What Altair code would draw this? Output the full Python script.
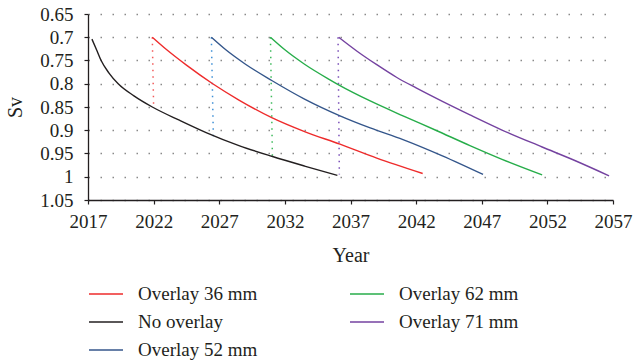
import altair as alt
import pandas as pd

# Sv index over time for the untreated pavement and four overlay thicknesses
no_overlay_years = [2017.3, 2017.7, 2018.0, 2018.6, 2019.3, 2020.5, 2021.9, 2024.0,
                    2026.0, 2028.5, 2031.0, 2033.5, 2036.0]
no_overlay_sv = [0.704, 0.730, 0.750, 0.777, 0.800, 0.826, 0.850, 0.879,
                 0.905, 0.933, 0.956, 0.977, 0.997]

overlay36_years = [2021.9, 2023.0, 2024.5, 2026.5, 2028.5, 2031.0, 2033.5, 2036.2, 2039.0, 2042.5]
overlay36_sv = [0.700, 0.727, 0.760, 0.800, 0.835, 0.873, 0.903, 0.930, 0.960, 0.993]

overlay52_years = [2026.4, 2027.5, 2029.0, 2031.0, 2033.5, 2036.2, 2038.5, 2041.0, 2044.0, 2047.1]
overlay52_sv = [0.700, 0.727, 0.758, 0.793, 0.833, 0.869, 0.895, 0.920, 0.955, 0.995]

overlay62_years = [2030.9, 2032.0, 2033.5, 2035.4, 2036.2, 2038.5, 2041.0, 2043.5,
                   2046.1, 2048.5, 2051.6]
overlay62_sv = [0.700, 0.727, 0.758, 0.791, 0.804, 0.837, 0.869, 0.900, 0.933, 0.962, 0.996]

overlay71_years = [2036.1, 2037.5, 2039.0, 2040.5, 2042.0, 2044.0, 2046.1, 2048.5,
                   2051.6, 2054.0, 2056.7]
overlay71_sv = [0.700, 0.730, 0.759, 0.786, 0.809, 0.838, 0.867, 0.899, 0.936, 0.964, 0.998]

# Vertical connectors from each overlay's start down to the untreated curve
connector_series = ["Overlay 36 mm", "Overlay 52 mm", "Overlay 62 mm", "Overlay 71 mm"]
connector_top_years = [2021.9, 2026.4, 2030.9, 2036.05]
connector_foot_years = [2022.0, 2026.55, 2031.05, 2036.15]
connector_top_sv = [0.700, 0.700, 0.700, 0.700]
connector_foot_sv = [0.850, 0.913, 0.956, 0.995]

year_ticks = [2017, 2022, 2027, 2032, 2037, 2042, 2047, 2052, 2057]
sv_ticks = [0.65, 0.7, 0.75, 0.8, 0.85, 0.9, 0.95, 1.0, 1.05]

# Legend entries fill the two columns top to bottom
legend_order = ["Overlay 36 mm", "No overlay", "Overlay 52 mm", "Overlay 62 mm", "Overlay 71 mm"]
legend_colors = ["#ee2b2b", "#231f20", "#34568b", "#27ad4a", "#7442a0"]
connector_colors = ["#f25a5a", "#3d8fd6", "#3dba5c", "#7a4fb8"]

series = {
    "No overlay": (no_overlay_years, no_overlay_sv),
    "Overlay 36 mm": (overlay36_years, overlay36_sv),
    "Overlay 52 mm": (overlay52_years, overlay52_sv),
    "Overlay 62 mm": (overlay62_years, overlay62_sv),
    "Overlay 71 mm": (overlay71_years, overlay71_sv),
}
rows = []
for name, (ys, vs) in series.items():
    for y, v in zip(ys, vs):
        rows.append({"series": name, "year": y, "sv": v})
curves = pd.DataFrame(rows)

conn_rows = []
for name, x0, x1, v0, v1 in zip(connector_series, connector_top_years, connector_foot_years,
                                connector_top_sv, connector_foot_sv):
    conn_rows.append({"series": name, "year": x0, "sv": v0, "k": 0})
    conn_rows.append({"series": name, "year": x1, "sv": v1, "k": 1})
connectors = pd.DataFrame(conn_rows)

FONT = "Liberation Serif"
TEXT = "#231f20"

x_enc = alt.X(
    "year:Q",
    scale=alt.Scale(domain=[2017, 2057], nice=False, zero=False),
    axis=alt.Axis(values=year_ticks, format="d", title="Year", grid=False,
                  tickSize=4, labelPadding=8, titlePadding=14,
                  labelFlush=False, labelOverlap=False),
)
y_enc = alt.Y(
    "sv:Q",
    scale=alt.Scale(domain=[0.65, 1.05], reverse=True, nice=False, zero=False),
    axis=alt.Axis(values=sv_ticks, format="~g", title="Sv", grid=True,
                  tickSize=4, labelPadding=11, titlePadding=14,
                  labelFlush=False, labelOverlap=False),
)

connector_layer = alt.Chart(connectors).mark_line(
    strokeWidth=1.5, strokeDash=[1.5, 5], clip=True
).encode(
    x=x_enc,
    y=y_enc,
    order="k:Q",
    detail="series:N",
    color=alt.Color("series:N", scale=alt.Scale(domain=connector_series, range=connector_colors),
                    legend=None),
)

curve_layer = alt.Chart(curves).mark_line(
    strokeWidth=1.4, interpolate="monotone", clip=True
).encode(
    x=x_enc,
    y=y_enc,
    color=alt.Color(
        "series:N",
        scale=alt.Scale(domain=legend_order, range=legend_colors),
        legend=alt.Legend(
            title=None, orient="none", legendX=0, legendY=262, columns=2,
            direction="vertical", columnPadding=89, rowPadding=-7,
            symbolType="stroke", symbolSize=1156,
            symbolStrokeWidth=1.5, labelOffset=14, labelFontSize=19, labelFont=FONT,
            labelColor=TEXT, labelLimit=300,
        ),
    ),
)

chart = alt.layer(connector_layer, curve_layer).resolve_scale(color="independent").properties(
    width=525,
    height=186,
    background="white",
    autosize=alt.AutoSizeParams(type="none"),
    padding={"left": 88, "top": 14, "right": 22, "bottom": 164},
).configure_view(stroke=None).configure_axis(
    labelFont=FONT, titleFont=FONT, labelFontSize=19, titleFontSize=20,
    labelColor=TEXT, titleColor=TEXT, titleFontWeight="normal",
    domainColor="#231f20", tickColor="#231f20", domainWidth=1.3, tickWidth=1.2,
    gridColor="#8a8a8a", gridDash=[1.5, 10.5], gridWidth=1.5,
)

chart.save("out.html", embed_options={"renderer": "svg", "actions": False})
